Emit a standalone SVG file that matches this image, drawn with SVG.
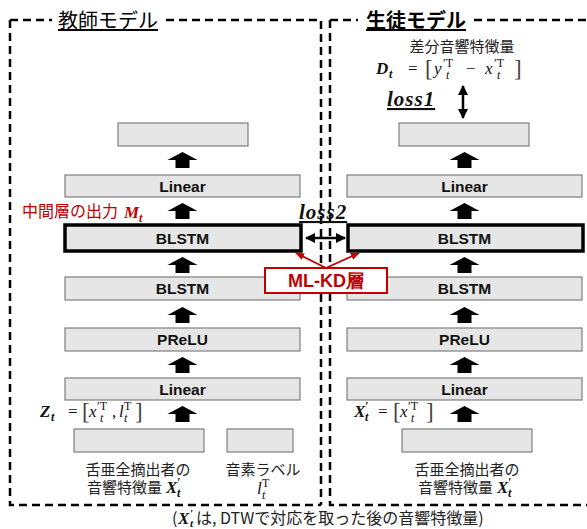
<svg xmlns="http://www.w3.org/2000/svg" width="587" height="529" viewBox="0 0 587 529">
<style>
.frame{fill:none;stroke:#000;stroke-width:2.5;stroke-dasharray:8 5}
.box{fill:#e6e6e6;stroke:#7f7f7f;stroke-width:1.2}
.thick{fill:#e6e6e6;stroke:#000;stroke-width:3.5}
.lbl{font-family:"Liberation Sans",Arial,sans-serif;font-weight:bold;font-size:15.5px;fill:#111;text-anchor:middle}
.jp{font-family:"Noto Sans CJK JP","Noto Sans",sans-serif;font-size:15px;fill:#222}
.title{font-family:"Noto Sans CJK JP",sans-serif;font-size:20px;fill:#000;text-decoration:underline}
.math{font-family:"Liberation Serif","Times New Roman",serif;font-size:17px;fill:#111}
.s{font-size:12px}
.b{font-size:23px;fill:#444}
.bm{font-weight:bold;font-style:italic}
.it{font-style:italic}
.red{fill:#c00000}
.loss{font-size:21px;letter-spacing:1px;text-decoration:underline}
.conn{stroke:#000;stroke-width:2.5;fill:none}
.redline{stroke:#c00000;stroke-width:1.8;fill:none}
</style>
<defs>
<polygon id="up" points="0,0 15,8 7,8 7,16 -7,16 -7,8 -15,8" fill="#000"/>
<marker id="ah" viewBox="0 0 10 10" refX="9" refY="5" markerWidth="4" markerHeight="4" orient="auto-start-reverse"><path d="M0,0 L10,5 L0,10 z" fill="#000"/></marker>
<marker id="rh" viewBox="0 0 10 10" refX="9" refY="5" markerWidth="5" markerHeight="5" orient="auto"><path d="M0,1 L10,5 L0,9 z" fill="#c00000"/></marker>
</defs>

<g id="frames">
<path class="frame" d="M10,20 H52 M166,20 H321 V505 M10,20 V505 H321"/>
<path class="frame" d="M330,20 H358 M474,20 H587 M330,20 V505 H587"/>
<text class="title" x="58" y="28">教師モデル</text>
<text class="title" x="366" y="28" font-weight="bold">生徒モデル</text>
</g>

<g id="teacher">
<g id="t_out"><rect class="box" x="118" y="123" width="130" height="23"/></g>
<g id="t_linear2"><rect class="box" x="65" y="175" width="235" height="22"/><text class="lbl" x="182.5" y="191.5">Linear</text></g>
<g id="t_blstm2"><rect class="thick" x="65" y="225" width="236" height="26"/><text class="lbl" x="182.5" y="243.5">BLSTM</text></g>
<g id="t_blstm1"><rect class="box" x="65" y="277" width="235" height="23"/><text class="lbl" x="182.5" y="293.5">BLSTM</text></g>
<g id="t_prelu"><rect class="box" x="65" y="328" width="235" height="23"/><text class="lbl" x="182.5" y="344.5">PReLU</text></g>
<g id="t_linear1"><rect class="box" x="65" y="378" width="235" height="22"/><text class="lbl" x="182.5" y="394.5">Linear</text></g>
<g id="t_in1"><rect class="box" x="74" y="429" width="130" height="23"/>
<text class="jp" x="138" y="475" text-anchor="middle">舌亜全摘出者の</text>
<text class="jp" x="87" y="493">音響特徴量</text>
<text class="math bm" x="166" y="493">X</text>
<text class="math s bm" x="177" y="486">′</text>
<text class="math s bm" x="177" y="497">t</text>
</g>
<g id="t_in2"><rect class="box" x="227" y="429" width="66" height="23"/>
<text class="jp" x="263" y="475" text-anchor="middle">音素ラベル</text>
<text class="math it" x="257" y="494">l</text>
<text class="math s" x="262" y="487">T</text>
<text class="math s it" x="262" y="499">t</text>
</g>
<g id="t_mid">
<text class="jp red" x="22" y="217" style="font-size:16px">中間層の出力</text>
<text class="math bm red" x="124" y="218">M</text>
<text class="math s bm red" x="139" y="222">t</text>
</g>
<g id="t_z">
<text class="math bm" x="40" y="417">Z</text>
<text class="math s bm" x="51" y="421">t</text>
<text class="math" x="68" y="417">=</text>
<text class="math b" x="82" y="419">[</text>
<text class="math it" x="89" y="417">x</text>
<text class="math s" x="97" y="410">′T</text>
<text class="math s it" x="100" y="422">t</text>
<text class="math" x="112" y="417">,</text>
<text class="math it" x="119" y="417">l</text>
<text class="math s" x="124" y="410">T</text>
<text class="math s it" x="124" y="422">t</text>
<text class="math b" x="135" y="419">]</text>
</g>
</g>

<g id="student">
<g id="s_out"><rect class="box" x="399" y="123" width="130" height="23"/></g>
<g id="s_linear2"><rect class="box" x="347" y="175" width="235" height="22"/><text class="lbl" x="464.5" y="191.5">Linear</text></g>
<g id="s_blstm2"><rect class="thick" x="348" y="225" width="235" height="26"/><text class="lbl" x="464.5" y="243.5">BLSTM</text></g>
<g id="s_blstm1"><rect class="box" x="347" y="277" width="235" height="23"/><text class="lbl" x="464.5" y="293.5">BLSTM</text></g>
<g id="s_prelu"><rect class="box" x="347" y="328" width="235" height="23"/><text class="lbl" x="464.5" y="344.5">PReLU</text></g>
<g id="s_linear1"><rect class="box" x="347" y="378" width="235" height="22"/><text class="lbl" x="464.5" y="394.5">Linear</text></g>
<g id="s_in"><rect class="box" x="402" y="429" width="130" height="23"/>
<text class="jp" x="467" y="475" text-anchor="middle">舌亜全摘出者の</text>
<text class="jp" x="418" y="493">音響特徴量</text>
<text class="math bm" x="497" y="493">X</text>
<text class="math s bm" x="508" y="486">′</text>
<text class="math s bm" x="508" y="497">t</text>
</g>
<g id="s_x">
<text class="math bm" x="354" y="417">X</text>
<text class="math s bm" x="365" y="410">′</text>
<text class="math s bm" x="365" y="421">t</text>
<text class="math" x="378" y="417">=</text>
<text class="math b" x="393" y="419">[</text>
<text class="math it" x="400" y="417">x</text>
<text class="math s" x="408" y="410">′T</text>
<text class="math s it" x="411" y="422">t</text>
<text class="math b" x="426" y="419">]</text>
</g>
<g id="s_target">
<text class="jp" x="462" y="52" text-anchor="middle">差分音響特徴量</text>
<text class="math bm" x="376" y="74">D</text>
<text class="math s bm" x="389" y="78">t</text>
<text class="math" x="408" y="74">=</text>
<text class="math b" x="425" y="76">[</text>
<text class="math it" x="434" y="74">y</text>
<text class="math s" x="443" y="67">′T</text>
<text class="math s it" x="446" y="79">t</text>
<text class="math" x="466" y="74">−</text>
<text class="math it" x="485" y="74">x</text>
<text class="math s" x="494" y="67">′T</text>
<text class="math s it" x="497" y="79">t</text>
<text class="math b" x="514" y="76">]</text>
</g>
<g id="loss1"><text class="math bm loss" x="387" y="106">loss1</text></g>
</g>

<g id="mlkd">
<rect x="265" y="268" width="122" height="25" fill="#fff" stroke="#c00000" stroke-width="2"/>
<text class="lbl red" x="326" y="287" style="font-size:18px">ML-KD層</text>
</g>
<g id="loss2"><text class="math bm loss" x="299" y="219">loss2</text></g>

<g id="connectors">
<use href="#up" x="182.5" y="152"/>
<use href="#up" x="182.5" y="203"/>
<use href="#up" x="182.5" y="257"/>
<use href="#up" x="182.5" y="307"/>
<use href="#up" x="182.5" y="357"/>
<use href="#up" x="182.5" y="406"/>
<use href="#up" x="464.5" y="152"/>
<use href="#up" x="464.5" y="203"/>
<use href="#up" x="464.5" y="257"/>
<use href="#up" x="464.5" y="307"/>
<use href="#up" x="464.5" y="357"/>
<use href="#up" x="464.5" y="406"/>
<line class="conn" x1="306" y1="238" x2="345" y2="238" marker-start="url(#ah)" marker-end="url(#ah)"/>
<line class="conn" x1="463" y1="86" x2="463" y2="118" marker-start="url(#ah)" marker-end="url(#ah)"/>
<line class="redline" x1="326" y1="268" x2="296" y2="253" marker-end="url(#rh)"/>
<line class="redline" x1="326" y1="268" x2="359" y2="253" marker-end="url(#rh)"/>
</g>

<g id="caption">
<text class="jp" x="172" y="524" style="font-size:16px">(</text>
<text class="math bm" x="178" y="524" style="font-size:17px">X</text>
<text class="math bm" x="190" y="517" style="font-size:11px">′</text>
<text class="math bm" x="190" y="527" style="font-size:11px">t</text>
<text class="jp" x="196" y="524" style="font-size:16px">は, DTWで対応を取った後の音響特徴量)</text>
</g>
</svg>
